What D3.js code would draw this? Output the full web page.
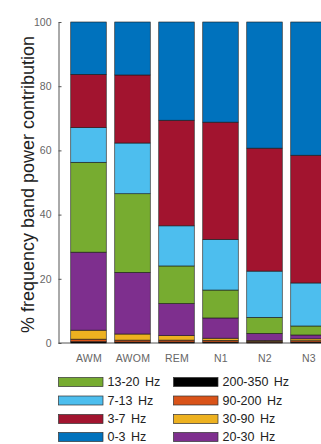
<!DOCTYPE html>
<html>
<head>
<meta charset="utf-8">
<script src="https://cdn.jsdelivr.net/npm/d3@7"></script>
<style>
  html, body { margin: 0; padding: 0; background: #fff; }
  svg { display: block; font-family: Arial, "Liberation Sans", sans-serif; }
</style>
</head>
<body>
<svg id="chart" width="321" height="444"></svg>
<script>
// Sleep / wake stages on the x axis
const stages = ["AWM", "AWOM", "REM", "N1", "N2", "N3"];

// Frequency bands, bottom of the stack first
const bands = ["200-350 Hz", "90-200 Hz", "30-90 Hz", "20-30 Hz", "13-20 Hz", "7-13 Hz", "3-7 Hz", "0-3 Hz"];
const bandColors = ["#000000", "#D95319", "#EDB120", "#7E2F8E", "#77AC30", "#4DBEEE", "#A2142F", "#0072BD"];

// Percentage contribution of each band per stage (same order as stages)
const band200to350 = [0.4, 0.3, 0.3, 0.3, 0.2, 0.3];
const band90to200  = [0.8, 0.6, 0.6, 0.5, 0.3, 0.4];
const band30to90   = [2.8, 1.9, 1.4, 0.7, 0.3, 0.6];
const band20to30   = [24.3, 19.2, 10.0, 6.3, 2.2, 1.2];
const band13to20   = [28.0, 24.5, 11.7, 8.7, 5.0, 2.8];
const band7to13    = [10.8, 15.8, 12.5, 15.8, 14.4, 13.4];
const band3to7     = [16.6, 21.2, 32.9, 36.5, 38.3, 39.8];
const band0to3     = [16.3, 16.5, 30.6, 31.2, 39.3, 41.5];

const yTicks = [0, 20, 40, 60, 80, 100];

// Legend entries, filled column by column
const legendOrder = ["13-20 Hz", "7-13 Hz", "3-7 Hz", "0-3 Hz", "200-350 Hz", "90-200 Hz", "30-90 Hz", "20-30 Hz"];

const bandSeries = [band200to350, band90to200, band30to90, band20to30, band13to20, band7to13, band3to7, band0to3];

const rows = stages.map((s, i) => {
  const r = { stage: s };
  bands.forEach((b, j) => { r[b] = bandSeries[j][i]; });
  return r;
});

const svg = d3.select("#chart");
const W = 321;

const y = d3.scaleLinear().domain([0, 100]).range([343, 22]);
const x = d3.scalePoint().domain(stages).range([88.5, 308.5]);
const barW = 35.5;
const color = d3.scaleOrdinal().domain(bands).range(bandColors);

const axisX = 58.5;

const stack = d3.stack().keys(bands)(rows);

// y axis, ticks pointing inward
const yAxis = svg.append("g")
  .attr("transform", `translate(${axisX},0)`)
  .call(d3.axisLeft(y).tickValues(yTicks).tickSizeInner(-3).tickSizeOuter(0).tickPadding(7));
yAxis.select(".domain").attr("stroke", "#555").attr("stroke-width", 1);
yAxis.selectAll(".tick line").attr("stroke", "#555");
yAxis.selectAll(".tick text").attr("fill", "#666").style("font-size", "10.5px");

// x axis
const xAxis = svg.append("g")
  .attr("transform", `translate(0,${y(0)})`)
  .call(d3.axisBottom(x).tickSizeInner(-3).tickSizeOuter(0).tickPadding(12));
xAxis.select(".domain").remove();
xAxis.selectAll(".tick line").attr("stroke", "#777");
xAxis.selectAll(".tick text").attr("fill", "#666")
  .style("font-size", "10.5px").style("letter-spacing", "0.3px");
svg.append("line")
  .attr("x1", axisX).attr("x2", W)
  .attr("y1", y(0)).attr("y2", y(0))
  .attr("stroke", "#555").attr("stroke-width", 1);

// stacked bars
svg.append("g").selectAll("g")
  .data(stack)
  .join("g")
  .attr("fill", d => color(d.key))
  .selectAll("rect")
  .data(d => d)
  .join("rect")
  .attr("x", d => x(d.data.stage) - barW / 2)
  .attr("width", barW)
  .attr("y", d => y(d[1]))
  .attr("height", d => y(d[0]) - y(d[1]))
  .attr("stroke", "#1a1a1a")
  .attr("stroke-width", 0.6);

// y axis title
svg.append("text")
  .attr("transform", `translate(34,${(y(0) + y(100)) / 2 + 2}) rotate(-90)`)
  .attr("text-anchor", "middle")
  .attr("fill", "#222")
  .style("font-size", "18px")
  .text("% frequency band power contribution");

// legend
const legend = svg.append("g");
const colX = [58.5, 173.5];
const rowY = [382, 400.5, 419, 437];
legendOrder.forEach((name, i) => {
  const col = Math.floor(i / 4), row = i % 4;
  const g = legend.append("g").attr("transform", `translate(${colX[col]},${rowY[row]})`);
  g.append("rect")
    .attr("x", 0).attr("y", -4.5)
    .attr("width", 44.5).attr("height", 9)
    .attr("fill", color(name))
    .attr("stroke", "#333").attr("stroke-width", 0.7);
  g.append("text")
    .attr("x", 49).attr("y", 0)
    .attr("dy", "0.35em")
    .attr("fill", "#222")
    .style("font-size", "12.5px")
    .style("word-spacing", "2px")
    .text(name);
});
</script>
</body>
</html>
